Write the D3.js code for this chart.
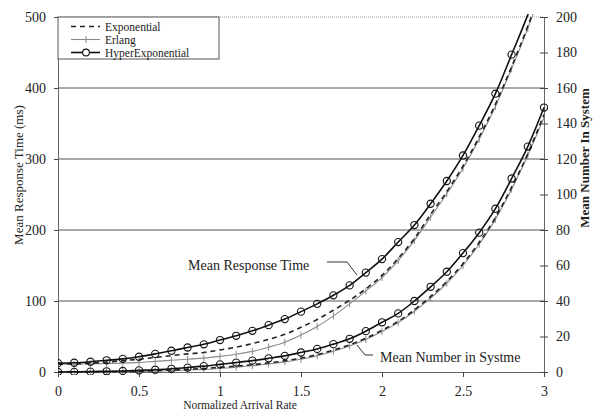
<!DOCTYPE html>
<html>
<head>
<meta charset="utf-8">
<script src="https://cdn.jsdelivr.net/npm/d3@7"></script>
<style>
  html, body { margin: 0; padding: 0; background: #fff; }
  svg { display: block; font-family: "Liberation Serif", "Times New Roman", serif; }
</style>
</head>
<body>
<svg id="chart" width="596" height="409"></svg>
<script>
// Normalized arrival rate, 0 to 3 in steps of 0.1
const arrivalRate = [0,0.1,0.2,0.3,0.4,0.5,0.6,0.7,0.8,0.9,1.0,1.1,1.2,1.3,1.4,1.5,1.6,1.7,1.8,1.9,2.0,2.1,2.2,2.3,2.4,2.5,2.6,2.7,2.8,2.9,3.0];

// Mean response time (ms), left axis
const respExponential = [11,11.5,12.5,14,16,18,20.5,23,25.5,27.5,31,35,40,46,53,63,74,87,101,117,136,160,188,222,254,290,331,377,430,487,550];
const respErlang      = [11,11,11.5,12,12.5,13.5,15,16.5,18,19.5,22,25,29,35,42,52,64,79,96,114,133,157,185,218,251,287,328,374,427,484,548];
const respHyperExp    = [12.5,13,14.5,16.5,18.5,21.5,25.5,30,34.5,39,45,51,58,66,74.5,85,96,108,122,140,159,183,207,237,269,305,347,392,447,503,565];

// Mean number in system, right axis
const numExponential = [0,0.05,0.1,0.2,0.3,0.5,0.8,1.1,1.5,2.0,2.6,3.3,4.1,5.1,6.3,7.8,9.8,12.3,15.3,19,23.5,28.5,35,42.5,51,61,73,87,104,123,145];
const numErlang      = [0,0.02,0.05,0.1,0.2,0.3,0.5,0.8,1.1,1.5,2.0,2.7,3.5,4.5,5.7,7.2,9.2,11.7,14.7,18.3,22.8,27.8,34.2,41.6,50,60,72,86,103,122,143.5];
const numHyperExp    = [0,0.1,0.2,0.4,0.6,0.9,1.3,1.8,2.5,3.3,4.3,5.3,6.4,7.7,9.1,11,13,15.7,18.7,23,28,33,40,48,56.5,67,78.5,92,109,127,149];

// Tick values
const xTicks = [0,0.5,1,1.5,2,2.5,3];
const xTickLabels = ["0","0.5","1","1.5","2","2.5","3"];
const leftTicks = [0,100,200,300,400,500];
const rightTicks = [0,20,40,60,80,100,120,140,160,180,200];
const legendLabels = ["Exponential","Erlang","HyperExponential"];

const svg = d3.select("#chart");
const m = { left: 58, right: 544, top: 17, bottom: 372 };

const x = d3.scaleLinear().domain([0,3]).range([m.left, m.right]);
const yL = d3.scaleLinear().domain([0,500]).range([m.bottom, m.top]);
const yR = d3.scaleLinear().domain([0,200]).range([m.bottom, m.top]);

// Horizontal gridlines
svg.append("g").selectAll("line").data([100,200,300,400]).join("line")
  .attr("x1", m.left).attr("x2", m.right)
  .attr("y1", d => yL(d)).attr("y2", d => yL(d))
  .attr("stroke", "#555").attr("stroke-width", 1);
svg.append("line")
  .attr("x1", m.left).attr("x2", m.right).attr("y1", yL(500)).attr("y2", yL(500))
  .attr("stroke", "#999").attr("stroke-width", 1).attr("stroke-dasharray", "1,1");

// Axes
const xAxis = svg.append("g").attr("transform", `translate(0,${m.bottom})`)
  .call(d3.axisBottom(x).tickValues(xTicks).tickFormat((d,i) => xTickLabels[i]).tickSize(5).tickPadding(9));
const leftAxis = svg.append("g").attr("transform", `translate(${m.left},0)`)
  .call(d3.axisLeft(yL).tickValues(leftTicks).tickSize(4).tickPadding(8));
const rightAxis = svg.append("g").attr("transform", `translate(${m.right},0)`)
  .call(d3.axisRight(yR).tickValues(rightTicks).tickSize(4).tickPadding(8));
rightAxis.selectAll(".tick line").attr("x1", -4);

[xAxis, leftAxis, rightAxis].forEach(g => {
  g.select(".domain").attr("stroke", "#666");
  g.selectAll(".tick line").attr("stroke", "#444");
  g.selectAll(".tick text").attr("fill", "#222")
    .style("font-family", "Liberation Serif, serif").style("font-size", "14px");
});

// Series
svg.append("clipPath").attr("id", "plotClip").append("rect")
  .attr("x", m.left).attr("y", m.top - 3).attr("width", m.right - m.left + 4).attr("height", m.bottom - m.top + 6);
const plot = svg.append("g").attr("clip-path", "url(#plotClip)");

function series(values, scale, style) {
  const pts = arrivalRate.map((r, i) => [r, values[i]]);
  const line = d3.line().x(d => x(d[0])).y(d => scale(d[1])).curve(d3.curveMonotoneX);
  plot.append("path").datum(pts).attr("d", line).attr("fill", "none")
    .attr("stroke", style.color).attr("stroke-width", style.width)
    .attr("stroke-dasharray", style.dash || null);
  const shown = pts.filter(d => scale(d[1]) >= m.top - 1);
  if (style.marker === "circle") {
    plot.append("g").selectAll("circle").data(shown).join("circle")
      .attr("cx", d => x(d[0])).attr("cy", d => scale(d[1])).attr("r", 3.6)
      .attr("fill", "none").attr("stroke", "#111").attr("stroke-width", 1.1);
  } else if (style.marker === "tick") {
    plot.append("g").selectAll("line").data(shown).join("line")
      .attr("x1", d => x(d[0])).attr("x2", d => x(d[0]))
      .attr("y1", d => scale(d[1]) - 3.5).attr("y2", d => scale(d[1]) + 3.5)
      .attr("stroke", style.color).attr("stroke-width", 1);
  }
}

const styles = {
  exp:   { color: "#222", width: 1.6, dash: "5,4" },
  erl:   { color: "#8a8a8a", width: 1.1, marker: "tick" },
  hyper: { color: "#111", width: 1.6, marker: "circle" }
};

series(numErlang, yR, styles.erl);
series(numExponential, yR, styles.exp);
series(numHyperExp, yR, styles.hyper);
series(respErlang, yL, styles.erl);
series(respExponential, yL, styles.exp);
series(respHyperExp, yL, styles.hyper);

// Axis titles
svg.append("text").attr("transform", `translate(23,175) rotate(-90)`)
  .attr("text-anchor", "middle").style("font-size", "13px").attr("fill", "#222")
  .text("Mean Response Time (ms)");
svg.append("text").attr("transform", `translate(589,158) rotate(-90)`)
  .attr("text-anchor", "middle").style("font-size", "13px").style("font-weight", "bold").attr("fill", "#222")
  .text("Mean Number In System");
svg.append("text").attr("x", 240).attr("y", 408.5)
  .attr("text-anchor", "middle").style("font-size", "11.5px").attr("fill", "#222")
  .text("Normalized Arrival Rate");

// Curve annotations with leader lines
svg.append("text").attr("x", 188).attr("y", 270).style("font-size", "14px").attr("fill", "#222")
  .text("Mean Response Time");
svg.append("polyline").attr("points", "327,262 347,262 357,275")
  .attr("fill", "none").attr("stroke", "#333").attr("stroke-width", 1);
svg.append("text").attr("x", 380).attr("y", 362).style("font-size", "14px").attr("fill", "#222")
  .text("Mean Number in Systme");
svg.append("polyline").attr("points", "357,345 365,355 373,355")
  .attr("fill", "none").attr("stroke", "#333").attr("stroke-width", 1);

// Legend
const legend = svg.append("g");
legend.append("rect").attr("x", m.left).attr("y", m.top).attr("width", 161).attr("height", 42)
  .attr("fill", "#fff").attr("stroke", "#555").attr("stroke-width", 1);
const legendKeys = ["exp", "erl", "hyper"];
legendLabels.forEach((label, i) => {
  const ly = m.top + 9.5 + i * 13;
  const st = styles[legendKeys[i]];
  legend.append("line").attr("x1", 71).attr("x2", 100).attr("y1", ly).attr("y2", ly)
    .attr("stroke", st.color).attr("stroke-width", st.width).attr("stroke-dasharray", st.dash || null);
  if (st.marker === "circle") {
    legend.append("circle").attr("cx", 86).attr("cy", ly).attr("r", 3.4)
      .attr("fill", "#fff").attr("stroke", "#111").attr("stroke-width", 1.1);
  } else if (st.marker === "tick") {
    legend.append("line").attr("x1", 86).attr("x2", 86).attr("y1", ly - 3.5).attr("y2", ly + 3.5)
      .attr("stroke", st.color).attr("stroke-width", 1);
  }
  legend.append("text").attr("x", 105).attr("y", ly + 4).style("font-size", "11.5px").attr("fill", "#222")
    .text(label);
});
</script>
</body>
</html>
